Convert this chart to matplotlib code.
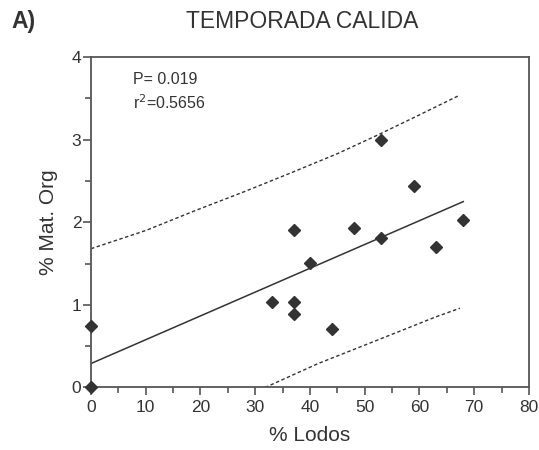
import matplotlib
matplotlib.use("Agg")
import matplotlib.pyplot as plt
from matplotlib.ticker import MultipleLocator

plt.rcParams['font.family'] = ['Liberation Sans', 'DejaVu Sans']

# Data points (% Lodos, % Mat. Org)
lodos = [0, 0, 33, 37, 37, 37, 40, 44, 48, 53, 53, 59, 63, 68]
mat_org = [0.75, 0.0, 1.04, 1.03, 0.89, 1.91, 1.51, 0.71, 1.93, 3.00, 1.81, 2.44, 1.70, 2.03]

# Regression line endpoints
fit_x = [0, 68]
fit_y = [0.29, 2.25]

# Upper band
upper_x = [0, 10, 19, 28, 36.6, 45, 52.5, 60, 67.4]
upper_y = [1.68, 1.90, 2.14, 2.37, 2.60, 2.83, 3.06, 3.30, 3.54]

# Lower band
lower_x = [31.8, 41.5, 53.7, 62.8, 67.4]
lower_y = [0.0, 0.29, 0.61, 0.85, 0.96]

dark = '#333333'
spine_c = '#555555'

fig = plt.figure(figsize=(5.39, 4.5), dpi=100)
ax = fig.add_axes([0.1688, 0.1389, 0.8126, 0.7344])

ax.plot(fit_x, fit_y, color=dark, lw=1.1)
ax.plot(upper_x, upper_y, color=dark, lw=1.0, ls=(0, (2.5, 1.8)))
ax.plot(lower_x, lower_y, color=dark, lw=1.0, ls=(0, (2.5, 1.8)))
ax.plot(lodos, mat_org, ls='none', marker='D', ms=6.5, color=dark, clip_on=False, zorder=5)

ax.set_xlim(0, 80)
ax.set_ylim(0, 4)
ax.xaxis.set_major_locator(MultipleLocator(10))
ax.xaxis.set_minor_locator(MultipleLocator(5))
ax.yaxis.set_major_locator(MultipleLocator(1))
ax.yaxis.set_minor_locator(MultipleLocator(0.5))
ax.tick_params(which='major', direction='out', length=6, width=1.2, color=spine_c,
               labelsize=12.5, labelcolor=dark, pad=3)
ax.tick_params(which='minor', direction='out', length=4, width=1.2, color=spine_c)
ax.tick_params(axis='y', pad=1)
for s in ax.spines.values():
    s.set_color(spine_c)
    s.set_linewidth(1.3)

ax.set_xlabel('% Lodos', fontsize=15, color=dark, labelpad=8)
ax.set_ylabel('% Mat. Org', fontsize=15, color=dark, labelpad=10)

ax.text(0.096, 0.932, 'P= 0.019', transform=ax.transAxes, fontsize=11.5, color=dark, va='center')
ax.text(0.096, 0.862, 'r$^2$=0.5656', transform=ax.transAxes, fontsize=11.5, color=dark, va='center')

fig.text(0.56, 0.953, 'TEMPORADA CALIDA', ha='center', va='center', fontsize=16.5, color=dark)
fig.text(0.022, 0.953, 'A)', ha='left', va='center', fontsize=16.5, fontweight='bold', color=dark)

fig.savefig('out.png', dpi=100)
